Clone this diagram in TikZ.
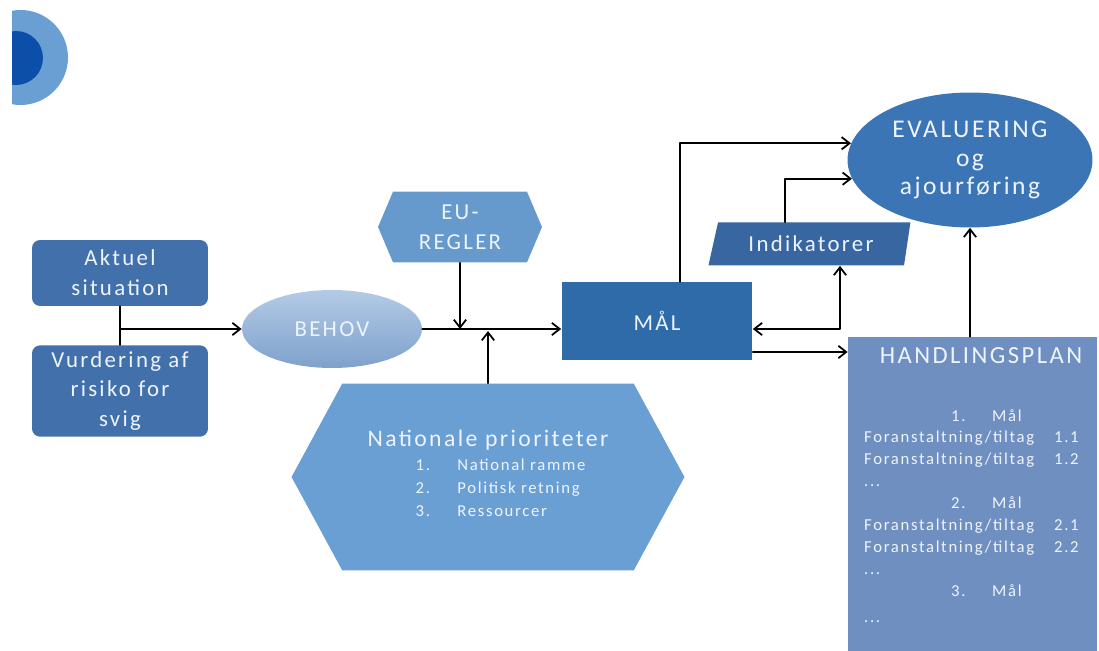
\documentclass[tikz,border=0pt]{standalone}
\usepackage{fontspec}
\setmainfont[LetterSpace=10]{Carlito}
\usetikzlibrary{shapes.geometric,shapes.symbols,arrows.meta}
% Farver
\definecolor{tekst}{HTML}{EEF4FF}
\definecolor{moerk}{HTML}{4270AA}
\definecolor{behovtop}{HTML}{B4CBE6}
\definecolor{behovbund}{HTML}{7EA1CB}
\definecolor{euhex}{HTML}{6699CC}
\definecolor{nathex}{HTML}{6A9FD4}
\definecolor{malbox}{HTML}{2F6BA9}
\definecolor{indbox}{HTML}{3766A1}
\definecolor{evalfyld}{HTML}{3C75B5}
\definecolor{handbox}{HTML}{6E8FBF}
\definecolor{cirkelmoerk}{HTML}{0B4FA8}
\begin{document}
\begin{tikzpicture}[x=0.02cm, y=-0.02cm, line join=round, line cap=round, >={Straight Barb[length=4.5pt,width=7pt]}, font=\fontsize{13}{17}\selectfont,
  pil/.style={line width=1pt},
  kasse/.style={rectangle, fill=moerk, rounded corners=0.16cm, minimum width=3.52cm, text=tekst, align=center},
  sekskant/.style={signal, signal to=east and west, text=tekst, align=center}]
\useasboundingbox (0,0) rectangle (1099,651);
% Halvcirkler oppe til venstre
\begin{scope}
\clip (12,0) rectangle (120,120);
\fill[nathex] (20.5,57.5) circle[radius=0.95cm];
\fill[cirkelmoerk] (16,58) circle[radius=0.54cm];
\end{scope}
% Venstre side
\node[kasse, minimum height=1.32cm] (akt) at (120,273) {Aktuel\\situation};
\node[kasse, minimum height=1.56cm] (vur) at (120,391) {Vurdering af\\risiko for\\svig};
\node[ellipse, top color=behovtop, bottom color=behovbund, minimum width=3.6cm, minimum height=1.56cm, text=tekst] (behov) at (332,329) {BEHOV};
% Sekskanter
\node[sekskant, fill=euhex, signal pointer angle=134, minimum width=3.28cm, minimum height=1.42cm] (eu) at (460,227) {EU-\\REGLER};
\node[sekskant, fill=nathex, signal pointer angle=123, minimum width=7.86cm, minimum height=3.74cm] (nat) at (488,477) {%
  {\fontsize{13.5}{16}\selectfont Nationale prioriteter}\\[1pt]
  {\fontsize{9.5}{13.3}\selectfont\hspace*{0.5cm}\begin{tabular}{@{}l@{\hspace{0.55cm}}l@{}}
  1. & National ramme\\
  2. & Politisk retning\\
  3. & Ressourcer
  \end{tabular}}};
% Midten
\node[rectangle, fill=malbox, minimum width=3.82cm, minimum height=1.56cm, text=tekst] (mal) at (657,321) {MÅL};
\node[trapezium, trapezium left angle=71, trapezium right angle=103, trapezium stretches body, fill=indbox, minimum width=4.04cm, minimum height=0.86cm, text=tekst] (ind) at (811,244) {Indikatorer};
% Højre side
\node[ellipse, fill=evalfyld, minimum width=4.9cm, minimum height=2.7cm, text=tekst, align=center, font=\fontsize{14.5}{16}\selectfont] (eval) at (970,160) {EVALUERING\\og\\ajourføring};
\node[rectangle, fill=handbox, minimum width=4.98cm, minimum height=6.28cm] (hand) at (972.5,494) {};
\node[text=tekst, font=\fontsize{14}{17}\selectfont] (handtitel) at (981,356) {HANDLINGSPLAN};
\node[text=tekst, anchor=north west, align=left, font=\fontsize{9.5}{12.5}\selectfont] (handliste) at (858,403) {%
  \hspace*{1.74cm}\makebox[0.82cm][l]{1.}Mål\\
  \makebox[3.8cm][l]{Foranstaltning/tiltag}1.1\\
  \makebox[3.8cm][l]{Foranstaltning/tiltag}1.2\\
  ...\\
  \hspace*{1.74cm}\makebox[0.82cm][l]{2.}Mål\\
  \makebox[3.8cm][l]{Foranstaltning/tiltag}2.1\\
  \makebox[3.8cm][l]{Foranstaltning/tiltag}2.2\\
  ...\\
  \hspace*{1.74cm}\makebox[0.82cm][l]{3.}Mål\\[2pt]
  ...};
% Forbindelser
\draw[pil] (akt.south) -- (vur.north);
\draw[pil,->] (akt.south |- behov.west) -- (behov.west);
\draw[pil,->] (behov.east) -- (behov.east -| mal.west);
\draw[pil,->] (eu.south) -- (eu.south |- behov.east);
\draw[pil,->] (nat.north) -- ([yshift=-0.04cm]nat.north |- behov.east);
\draw[pil,->] ([xshift=0.46cm]mal.north) |- (eval.172);
\draw[pil,->] ([xshift=-0.52cm]ind.north) |- (eval.189);
\draw[pil,<->] ([yshift=-0.16cm]mal.east) -| ([xshift=0.58cm]ind.south);
\draw[pil,->] ([yshift=-0.62cm]mal.east) -- ([yshift=-0.62cm]mal.east -| hand.west);
\draw[pil,->] (eval.south |- hand.north) -- (eval.south);
\end{tikzpicture}
\end{document}
